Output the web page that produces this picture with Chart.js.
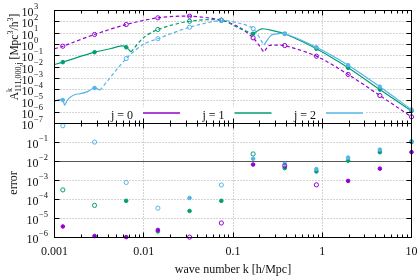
<!DOCTYPE html>
<html lang="en">
<head>
<meta charset="UTF-8">
<title>A^k_{111,000,j} and its error</title>
<style>
  body { margin: 0; background: #fff; }
  #wrap { position: relative; width: 420px; height: 280px; }
  #wrap canvas { position: absolute; left: 0; top: 0; }
</style>
</head>
<body>
<div id="wrap">
  <canvas id="topChart" width="420" height="280"></canvas>
  <canvas id="errChart" width="420" height="280"></canvas>
</div>

<script src="https://cdn.jsdelivr.net/npm/chart.js@4/dist/chart.umd.min.js"></script>
<script>
    // wave numbers where the markers sit (both panels)
    const kMarks = [0.00124, 0.00281, 0.00636, 0.0144, 0.0326, 0.0740, 0.168, 0.380, 0.860, 1.95, 4.42, 10];

    // A^k at the markers; a negative value is drawn dashed with an open circle
    const markJ0 = [-0.69, -7.6, -57.5, -224, -316, -138, -3.8, -0.79, -0.091, -2.2e-3, -3.0e-5, -3.9e-7];
    const markJ1 = [0.027, 0.204, 0.56, -20.9, -112, -138, 8.7, 8.7, 0.41, 8.5e-3, 1.0e-4, 1.26e-6];
    const markJ2 = [1.2e-5, 1.4e-4, -0.056, -3.2, -33, -129, -25, 8.7, 0.56, 0.0145, 1.8e-4, 1.7e-6];

    // the full curves (same sign rule)
    const curveKJ0 = [0.001, 0.00124, 0.00281, 0.00636, 0.0144, 0.0326, 0.074, 0.12, 0.168, 0.205, 0.222, 0.235, 0.25, 0.3, 0.38, 0.86, 1.95, 4.42, 10];
    const curveJ0 = [-0.41, -0.69, -7.6, -57.5, -224, -316, -138, -29.5, -3.8, -0.5, -0.22, -0.4, -0.76, -0.85, -0.79, -0.091, -2.2e-3, -3.0e-5, -3.9e-7];

    const curveKJ1 = [0.001, 0.00124, 0.00281, 0.0042, 0.0057, 0.00636, 0.0072, 0.0072, 0.0099, 0.0144, 0.0326, 0.074, 0.12, 0.168, 0.168, 0.211, 0.296, 0.38, 0.86, 1.95, 4.42, 10];
    const curveJ1 = [0.0166, 0.027, 0.204, 0.41, 0.74, 0.56, 0.22, -0.22, -3.8, -20.9, -112, -138, -25, -8.7, 8.7, 24, 14.8, 8.7, 0.41, 8.5e-3, 1.0e-4, 1.26e-6];

    const curveKJ2 = [0.001, 0.00113, 0.00124, 0.0013, 0.00139, 0.0015, 0.0017, 0.00193, 0.0023, 0.00281, 0.00324, 0.00324, 0.00636, 0.0099, 0.0144, 0.0326, 0.074, 0.12, 0.168, 0.222, 0.222, 0.245, 0.262, 0.283, 0.38, 0.86, 1.95, 4.42, 10];
    const curveJ2 = [9.3e-6, 1.3e-5, 1.2e-5, 4.2e-6, 1.1e-5, 2.1e-5, 3.7e-5, 4.3e-5, 6.3e-5, 1.4e-4, 9e-5, -9e-5, -0.056, -1.0, -3.2, -33, -129, -71, -25, -0.85, 0.85, 2.8, 5.4, 7.6, 8.7, 0.56, 0.0145, 1.8e-4, 1.7e-6];

    // relative error at the markers; negative = open circle
    const errJ0 = [3.8e-6, 1.2e-6, 1.05e-6, 2.5e-6, -1.05e-6, -5.8e-6, 6.9e-3, -5.9e-3, -5.9e-4, 9.5e-4, 4.2e-3, 3.1e-2];
    const errJ1 = [-3.2e-4, -4.9e-5, 8.5e-5, 2.1e-6, 2.5e-5, 8.5e-5, -2.5e-2, 4.5e-3, 3.0e-3, 1.1e-2, 3.1e-2, 0.105];
    const errJ2 = [-0.76, -0.105, -7.9e-4, -3.5e-5, 1.2e-4, -5.8e-4, 1.4e-2, 7.6e-3, 4.0e-3, 1.6e-2, 4.2e-2, 0.117];

    const seriesNames = ['j = 0', 'j = 1', 'j = 2'];
    const colors = ['#9400d3', '#009e73', '#56b4e9'];

    const xTickValues = [0.001, 0.01, 0.1, 1, 10];
    const xTickLabels = ['0.001', '0.01', '0.1', '1', '10'];
    const topYExps = [3, 2, 1, 0, -1, -2, -3, -4, -5, -6, -7];
    const errYExps = [0, -1, -2, -3, -4, -5, -6];

    const SERIF = '"Liberation Serif", "DejaVu Serif", serif';

    function pix(v) { return Math.round(v - 0.5) + 0.5; }

    function markerSet(vals, color) {
        return {
            data: kMarks.map((k, i) => ({ x: k, y: Math.abs(vals[i]) })),
            showLine: false,
            pointRadius: vals.map(v => v < 0 ? 2.1 : 1.8),
            pointBorderWidth: 1,
            pointBorderColor: color,
            pointBackgroundColor: vals.map(v => v < 0 ? 'rgba(255,255,255,0)' : color),
            clip: false
        };
    }

    // split a signed curve into solid (positive) and dashed (negative) runs
    function curveSets(ks, vals, color) {
        const runs = [];
        let cur = null;
        ks.forEach((k, i) => {
            const neg = vals[i] < 0;
            if (!cur || cur.neg !== neg) { cur = { neg: neg, pts: [] }; runs.push(cur); }
            cur.pts.push({ x: k, y: Math.abs(vals[i]) });
        });
        return runs.map(r => ({
            data: r.pts,
            showLine: true,
            pointRadius: 0,
            borderColor: color,
            borderWidth: 1.2,
            tension: 0.3,
            borderDash: r.neg ? [3.5, 2.5] : []
        }));
    }

    function drawGrid(chart, yExps, solidExp) {
        const { ctx, chartArea: a, scales: { x, y } } = chart;
        ctx.save();
        ctx.lineWidth = 1;
        ctx.setLineDash([1, 2]);
        ctx.strokeStyle = '#a8a8a8';
        ctx.beginPath();
        xTickValues.slice(1, -1).forEach(v => {
            const px = pix(x.getPixelForValue(v));
            ctx.moveTo(px, a.top); ctx.lineTo(px, a.bottom);
        });
        yExps.forEach(e => {
            if (e === solidExp) return;
            const py = pix(y.getPixelForValue(Math.pow(10, e)));
            if (py > a.top + 1 && py < a.bottom - 1) { ctx.moveTo(a.left, py); ctx.lineTo(a.right, py); }
        });
        ctx.stroke();
        if (solidExp !== undefined) {
            ctx.setLineDash([]);
            ctx.strokeStyle = '#555';
            const py = pix(y.getPixelForValue(Math.pow(10, solidExp)));
            ctx.beginPath(); ctx.moveTo(a.left, py); ctx.lineTo(a.right, py); ctx.stroke();
        }
        ctx.restore();
    }

    function drawAxes(chart, yExps, labelExps, labelX, withX) {
        const { ctx, chartArea: a, scales: { x, y } } = chart;
        ctx.save();
        ctx.strokeStyle = '#000';
        ctx.lineWidth = 1;
        ctx.setLineDash([]);
        ctx.beginPath();
        for (let e = -3; e <= 1; e++) {
            for (let m = 1; m <= 9; m++) {
                const v = m * Math.pow(10, e);
                if (v > 10.001) break;
                const px = pix(x.getPixelForValue(v));
                const len = m === 1 ? 5 : 3;
                ctx.moveTo(px, a.top); ctx.lineTo(px, a.top + len);
                ctx.moveTo(px, a.bottom); ctx.lineTo(px, a.bottom - len);
            }
        }
        yExps.forEach(e => {
            const py = pix(y.getPixelForValue(Math.pow(10, e)));
            ctx.moveTo(a.left, py); ctx.lineTo(a.left + 5, py);
            ctx.moveTo(a.right, py); ctx.lineTo(a.right - 5, py);
        });
        ctx.stroke();
        ctx.strokeRect(a.left, a.top, a.right - a.left, a.bottom - a.top);

        ctx.fillStyle = '#111';
        labelExps.forEach(e => {
            const py = y.getPixelForValue(Math.pow(10, e));
            ctx.font = '12px ' + SERIF;
            ctx.textAlign = 'right';
            ctx.textBaseline = 'middle';
            ctx.fillText('10', labelX, py + 2.5);
            ctx.font = '8.5px ' + SERIF;
            ctx.textAlign = 'left';
            ctx.fillText(e < 0 ? '\u2212' + (-e) : String(e), labelX + 0.5, py - 4);
        });

        if (withX) {
            ctx.font = '12px ' + SERIF;
            ctx.textAlign = 'center';
            ctx.textBaseline = 'middle';
            xTickValues.forEach((v, i) => ctx.fillText(xTickLabels[i], x.getPixelForValue(v), 251.5));
            ctx.fillText('wave number k [h/Mpc]', (a.left + a.right) / 2, 269.5);
        }
        ctx.restore();
    }

    // rotated y title with super/subscripts
    function drawYTitle(ctx) {
        const runs = [
            { t: 'A', s: 11.5, dy: 0 },
            { t: 'k', s: 8, dy: -5.5, keep: true },
            { t: '111,000,j', s: 8, dy: 3 },
            { t: ' [Mpc', s: 11.5, dy: 0 },
            { t: '3', s: 8, dy: -5 },
            { t: '/h', s: 11.5, dy: 0 },
            { t: '3', s: 8, dy: -5 },
            { t: ']', s: 11.5, dy: 0 }
        ];
        ctx.save();
        let total = 0;
        runs.forEach(r => {
            ctx.font = r.s + 'px ' + SERIF;
            r.w = ctx.measureText(r.t).width;
            if (!r.keep) total += r.w;
        });
        ctx.translate(17.5, 57 + total / 2);
        ctx.rotate(-Math.PI / 2);
        ctx.fillStyle = '#111';
        ctx.textAlign = 'left';
        ctx.textBaseline = 'alphabetic';
        let cx = 0;
        runs.forEach(r => {
            ctx.font = r.s + 'px ' + SERIF;
            ctx.fillText(r.t, cx, r.dy);
            if (!r.keep) cx += r.w;
        });
        ctx.restore();
    }

    const topDecor = {
        id: 'topDecor',
        beforeDatasetsDraw(chart) {
            drawGrid(chart, topYExps);
            const ctx = chart.ctx;
            ctx.save();
            ctx.fillStyle = '#fff';
            ctx.fillRect(100, 107, 266, 13);
            ctx.font = '12px ' + SERIF;
            ctx.textAlign = 'right';
            ctx.textBaseline = 'alphabetic';
            seriesNames.forEach((name, i) => {
                const x0 = 133 + 91.5 * i;
                ctx.fillStyle = '#111';
                ctx.fillText(name, x0, 118.5);
                ctx.strokeStyle = colors[i];
                ctx.lineWidth = 1.5;
                ctx.beginPath();
                ctx.moveTo(x0 + 10, 113);
                ctx.lineTo(x0 + 47, 113);
                ctx.stroke();
            });
            ctx.restore();
        },
        afterDatasetsDraw(chart) {
            drawAxes(chart, topYExps, topYExps, 33.5, false);
            drawYTitle(chart.ctx);
        }
    };

    const errDecor = {
        id: 'errDecor',
        beforeDatasetsDraw(chart) {
            drawGrid(chart, errYExps, -2);
        },
        afterDatasetsDraw(chart) {
            drawAxes(chart, errYExps, errYExps.slice(1), 38.5, true);
            const ctx = chart.ctx;
            ctx.save();
            ctx.translate(17, 183);
            ctx.rotate(-Math.PI / 2);
            ctx.font = '12px ' + SERIF;
            ctx.fillStyle = '#111';
            ctx.textAlign = 'center';
            ctx.fillText('error', 0, 0);
            ctx.restore();
        }
    };

    function baseOptions(padTop, padBottom, yMin, yMax) {
        return {
            responsive: false,
            animation: false,
            devicePixelRatio: 1,
            events: [],
            layout: { autoPadding: false, padding: { left: 54.5, right: 8.5, top: padTop, bottom: padBottom } },
            plugins: { legend: { display: false }, tooltip: { enabled: false } },
            scales: {
                x: { type: 'logarithmic', min: 0.001, max: 10, display: false },
                y: { type: 'logarithmic', min: yMin, max: yMax, display: false }
            }
        };
    }

    // index 0 is drawn last, so markers go first
    const topSets = [
        markerSet(markJ2, colors[2]),
        ...curveSets(curveKJ2, curveJ2, colors[2]),
        markerSet(markJ1, colors[1]),
        ...curveSets(curveKJ1, curveJ1, colors[1]),
        markerSet(markJ0, colors[0]),
        ...curveSets(curveKJ0, curveJ0, colors[0])
    ];

    new Chart(document.getElementById('topChart'), {
        type: 'scatter',
        data: { datasets: topSets },
        options: baseOptions(10.5, 280 - 123.5, 1e-7, 1e3),
        plugins: [topDecor]
    });

    new Chart(document.getElementById('errChart'), {
        type: 'scatter',
        data: { datasets: [markerSet(errJ0, colors[0]), markerSet(errJ2, colors[2]), markerSet(errJ1, colors[1])] },
        options: baseOptions(123.5, 280 - 237.5, 1e-6, 1),
        plugins: [errDecor]
    });
</script>
</body>
</html>
